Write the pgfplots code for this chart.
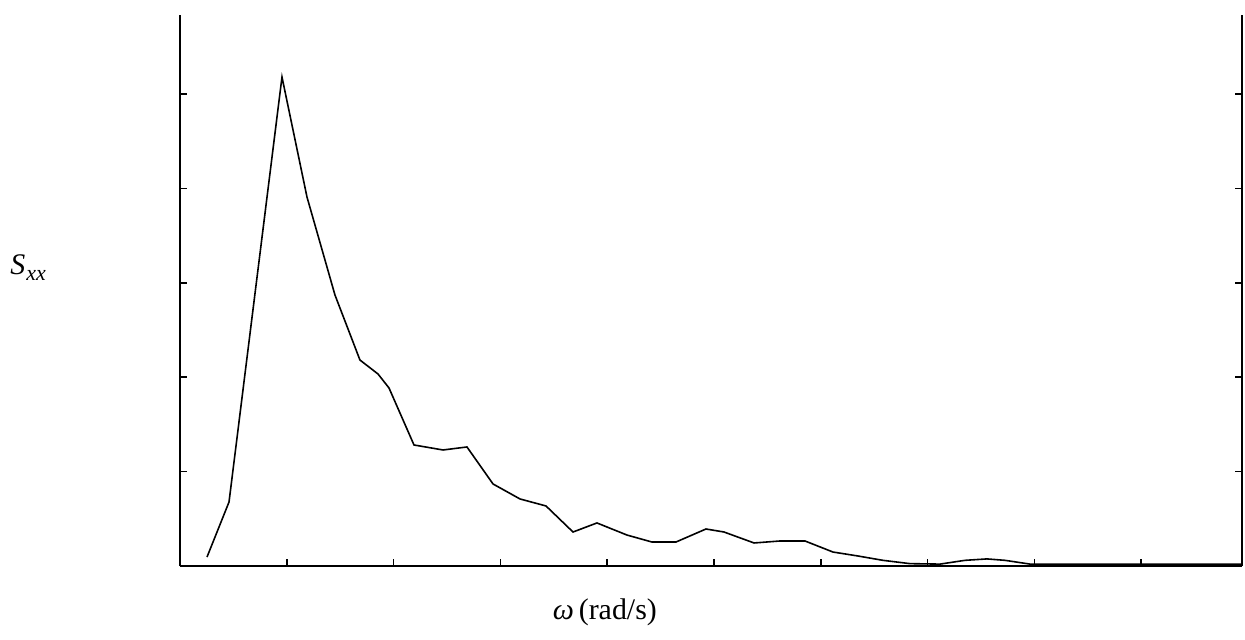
\documentclass[border=0pt]{standalone}
\usepackage{pgfplots}
\pgfplotsset{compat=1.18}
\usepackage{fontspec}
\setmainfont{Liberation Serif}
\begin{document}
\begin{tikzpicture}
\begin{axis}[
  scale only axis,
  width=531bp, height=275.5bp,
  xmin=0, xmax=9.944,
  ymin=0, ymax=5.837,
  axis x line*=bottom,
  xtick={1,...,9}, ytick={1,...,5},
  xticklabels={}, yticklabels={},
  tick align=inside,
  major tick length=3.5bp,
  every tick/.style={black, line width=0.9pt},
  axis line style={line width=1.1pt, black},
  font=\fontsize{15}{18}\selectfont,
  xlabel={\textit{ω}\,(rad/s)},
  ylabel={\textit{S}\kern0.5pt\raisebox{-0.45ex}{\fontsize{11}{12}\selectfont\textit{xx}}},
  xlabel style={at={(axis description cs:0.40,-0.0835)}, anchor=center},
  ylabel style={rotate=-90, at={(axis description cs:-0.143,0.541)}, anchor=center},
  clip=false,
]
\addplot[black, line width=0.8pt] coordinates {
(0.253,0.095)
(0.459,0.678)
(0.955,5.18)
(1.189,3.909)
(1.451,2.871)
(1.685,2.182)
(1.854,2.034)
(1.957,1.886)
(2.191,1.282)
(2.463,1.229)
(2.687,1.261)
(2.931,0.869)
(3.184,0.710)
(3.427,0.636)
(3.680,0.360)
(3.904,0.456)
(4.185,0.328)
(4.419,0.254)
(4.644,0.254)
(4.925,0.392)
(5.094,0.360)
(5.375,0.244)
(5.618,0.265)
(5.852,0.265)
(6.114,0.148)
(6.348,0.106)
(6.582,0.060)
(6.835,0.025)
(7.116,0.02)
(7.35,0.06)
(7.556,0.075)
(7.725,0.06)
(7.959,0.02)
(8.6,0.02)
(9.944,0.02)
};
\end{axis}
\path[use as bounding box] ([xshift=-90bp,yshift=-37bp]current axis.south west) rectangle ([xshift=1.5bp,yshift=7.5bp]current axis.north east);
\end{tikzpicture}
\end{document}
